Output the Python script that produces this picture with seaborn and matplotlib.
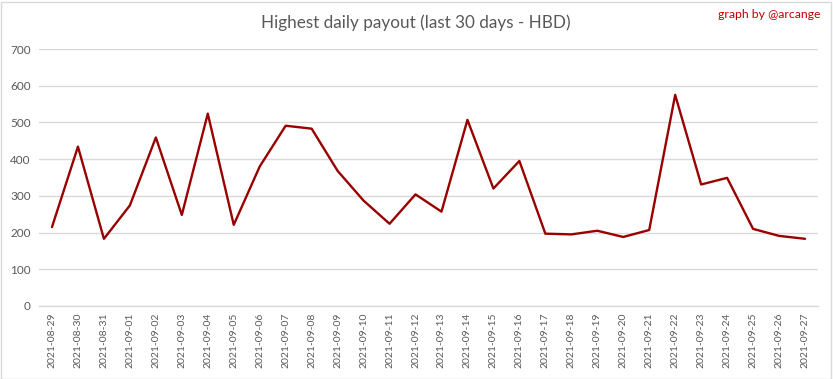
import matplotlib
matplotlib.use("Agg")
import matplotlib.pyplot as plt
import seaborn as sns
import pandas as pd
from matplotlib.patches import Rectangle

dates = ["2021-08-29", "2021-08-30", "2021-08-31", "2021-09-01", "2021-09-02",
         "2021-09-03", "2021-09-04", "2021-09-05", "2021-09-06", "2021-09-07",
         "2021-09-08", "2021-09-09", "2021-09-10", "2021-09-11", "2021-09-12",
         "2021-09-13", "2021-09-14", "2021-09-15", "2021-09-16", "2021-09-17",
         "2021-09-18", "2021-09-19", "2021-09-20", "2021-09-21", "2021-09-22",
         "2021-09-23", "2021-09-24", "2021-09-25", "2021-09-26", "2021-09-27"]
payout = [215, 434, 183, 274, 459, 248, 524, 221, 380, 491,
          483, 368, 287, 224, 304, 257, 507, 320, 395, 197,
          195, 205, 188, 207, 575, 331, 349, 210, 191, 183]
yticks = [0, 100, 200, 300, 400, 500, 600, 700]

sns.set_theme(style="white")
plt.rcParams['font.family'] = ['Lato', 'DejaVu Sans']

W, H = 833, 379
fig = plt.figure(figsize=(W / 100, H / 100), dpi=100)
ax = fig.add_axes([39 / W, 1 - 306 / H, (818 - 39) / W, (306 - 49) / H])

df = pd.DataFrame({"idx": list(range(len(dates))), "payout": payout})
sns.lineplot(data=df, x="idx", y="payout", ax=ax, color="#990000", linewidth=1.7)

ax.set_xlim(-0.5, len(dates) - 0.5)
ax.set_ylim(0, 700)
ax.set_yticks(yticks)
ax.set_yticklabels([str(v) for v in yticks], fontsize=8.5, color="#595959")
ax.set_xticks(list(range(len(dates))))
ax.set_xticklabels(dates, rotation=90, fontsize=7.5, color="#595959")
ax.tick_params(axis="both", length=0, pad=6)
ax.tick_params(axis="x", pad=5)
ax.grid(axis="y", color="#D9D9D9", linewidth=1.0)
ax.set_axisbelow(True)
for s in ["left", "right", "top"]:
    ax.spines[s].set_visible(False)
ax.spines["bottom"].set_color("#D9D9D9")
ax.spines["bottom"].set_linewidth(1.0)
ax.set_xlabel("")
ax.set_ylabel("")

fig.text(0.5 - 1 / W, 1 - 23 / H, "Highest daily payout (last 30 days - HBD)",
         ha="center", va="center", fontsize=12.3, color="#595959",
         fontweight="normal")
fig.text(1 - 13 / W, 1 - 14 / H, "graph by @arcange", ha="right", va="center",
         fontsize=8.8, color="#C00000", fontweight="normal")

fig.patches.append(Rectangle((0.5 / W, 0.5 / H), 1 - 2.5 / W, 1 - 2.5 / H,
                             transform=fig.transFigure, fill=False,
                             edgecolor="#D9D9D9", linewidth=1.0))

fig.savefig("out.png", dpi=100)
